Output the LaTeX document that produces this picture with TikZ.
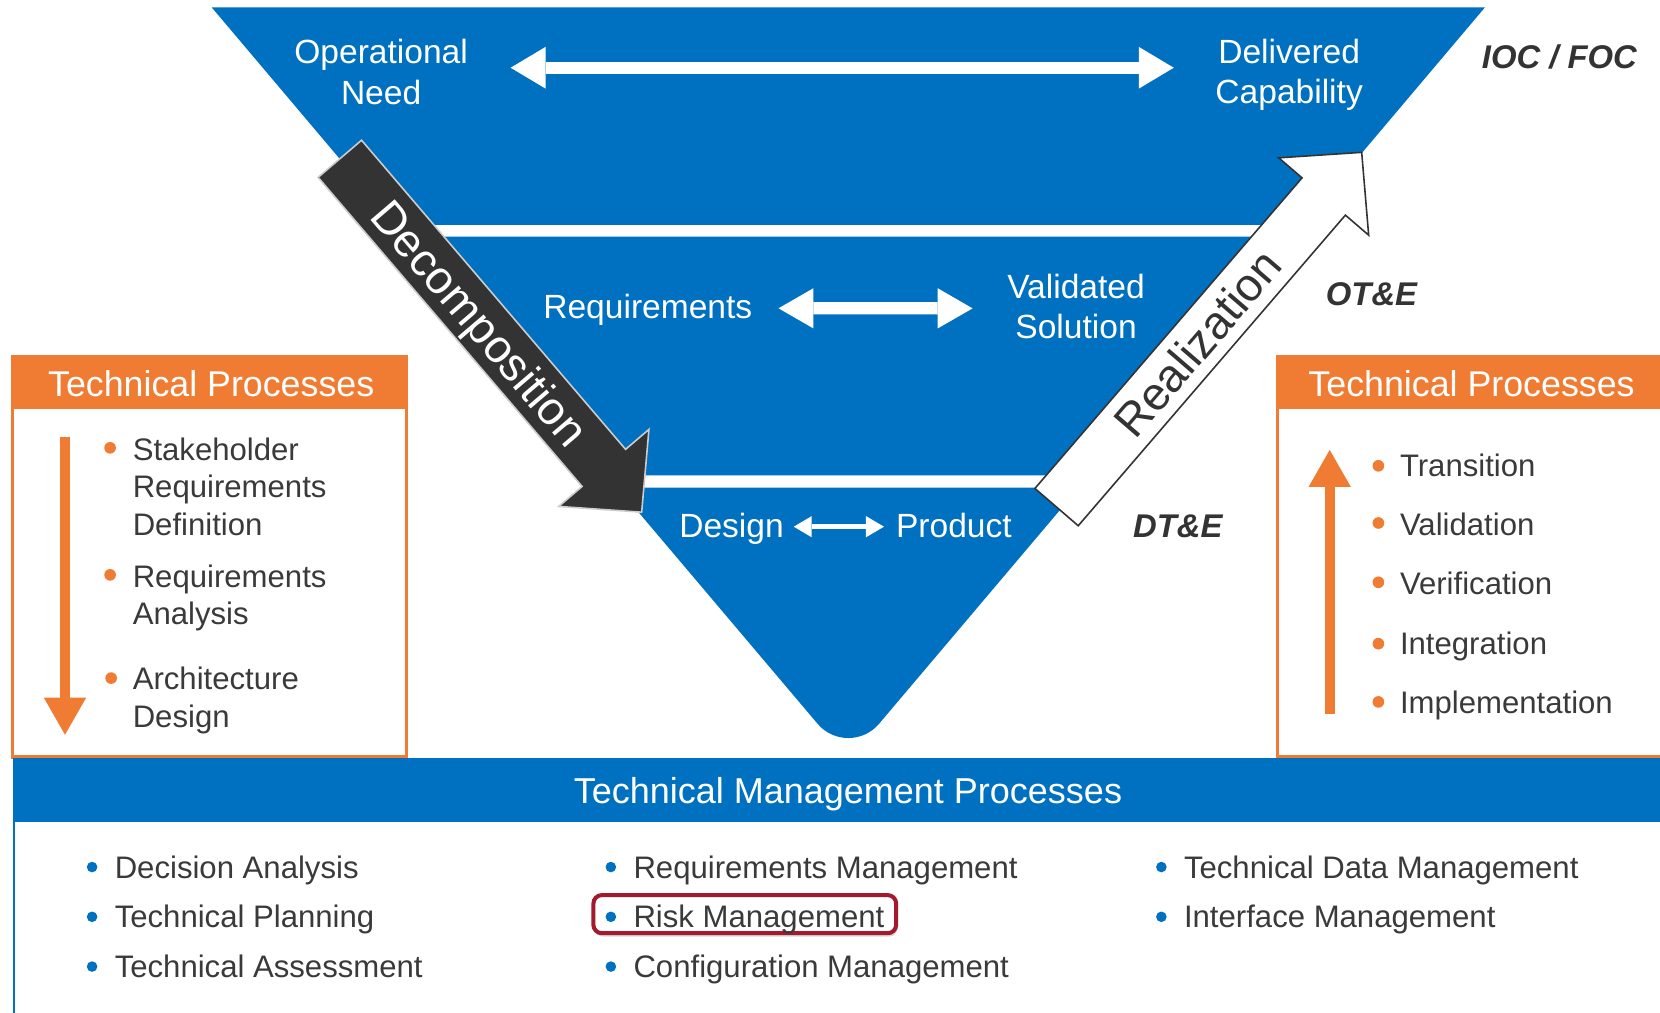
\documentclass[tikz,border=0pt]{standalone}
\usepackage{fontspec}
\setmainfont{Liberation Sans}
\usetikzlibrary{arrows.meta,shadows}

\definecolor{vblue}{RGB}{0,112,192}
\definecolor{vorange}{RGB}{240,124,52}
\definecolor{vdark}{RGB}{51,51,51}
\definecolor{vtext}{RGB}{58,58,58}
\definecolor{vred}{RGB}{163,25,45}

\tikzset{
  capc/.style={inner sep=0pt, text depth=0pt, text height=#1},
  bluetwo/.style={inner sep=0pt, text=white, align=center, font=\fontsize{15.85}{19}\selectfont},
  blueone/.style={capc=11.35pt, text=white, font=\fontsize{15.85}{19}\selectfont},
  phase/.style={capc=11.1pt, text=vdark, font=\fontsize{15.5}{18}\selectfont\bfseries\itshape},
  header/.style={capc=12.1pt, text=white, font=\fontsize{16.9}{20}\selectfont},
  itemtwo/.style={inner sep=0pt, text=vtext, align=left, anchor=north west, font=\fontsize{14.7}{17.75}\selectfont},
  itemone/.style={capc=10.5pt, anchor=west, text=vtext, font=\fontsize{14.7}{17.75}\selectfont},
  flowtext/.style={capc=15.6pt, font=\fontsize{21.85}{26}\selectfont},
  toparrow/.style={draw=white, line width=5.8pt, >={Triangle[length=16.5pt,width=19.7pt,line width=0pt]}, <->},
  midarrow/.style={draw=white, line width=5.8pt, >={Triangle[length=16.5pt,width=19pt,line width=0pt]}, <->},
  botarrow/.style={draw=white, line width=2.5pt, >={Triangle[length=8.5pt,width=10pt,line width=0pt]}, <->},
  orangearrow/.style={draw=vorange, line width=4.75pt, -{Triangle[length=17.5pt,width=20pt,line width=0pt]}},
  obullet/.style={fill=vorange},
  bbullet/.style={fill=vblue},
  procbox/.style={draw=vorange, line width=1.5pt, fill=white},
}

\begin{document}
\begin{tikzpicture}[x=0.5pt,y=-0.5pt]
\useasboundingbox (0,0) rectangle (1568,956);
\clip (0,0) rectangle (1568,956);
\fill[white] (0,0) rectangle (1568,956);

% ---- the inverted V: three blue bands ----
\fill[vblue] (200,7) -- (1402.6,7) -- (1228.9,212.5) -- (373.7,212.5) -- cycle;
\fill[vblue] (383.1,223.5) -- (1219.5,223.5) -- (1028.9,449) -- (573.7,449) -- cycle;
\fill[vblue] (583.4,460.5) -- (1019.2,460.5) -- (830.3,683.7)
   .. controls (815.1,701.6) and (787.5,701.6) .. (772.3,683.7) -- cycle;

% ---- labels inside the bands ----
\node[bluetwo] (opneed) at (360,68) {Operational\\Need};
\node[bluetwo] (delcap) at (1217.7,71) {Delivered\\Capability};
\node[blueone] (req) at (611.9,289.6) {Requirements};
\node[bluetwo] (valsol) at (1016.4,289.7) {Validated\\Solution};
\node[blueone] (design) at (691,496) {Design};
\node[blueone] (product) at (901,496) {Product};

\draw[toparrow, shorten <=20pt, shorten >=19.5pt] ([yshift=2pt]opneed.east) -- ([yshift=3.5pt]delcap.west);
\draw[midarrow, shorten <=12.2pt, shorten >=16.2pt] ([yshift=-0.8pt]req.east) -- ([yshift=-0.8pt]valsol.west);
\draw[botarrow, shorten <=4.5pt, shorten >=5.5pt] ([yshift=-0.75pt]design.east) -- ([yshift=-0.75pt]product.west);

% ---- decomposition arrow ----
\begin{scope}[shift={(321,150)}, rotate=-49.5]
  \filldraw[fill=vdark, draw=white!80!black, line width=0.75pt]
    (0,-27) -- (384,-27) -- (384,-56) -- (439,0) -- (384,56) -- (384,27) -- (0,27) -- cycle;
  \node[flowtext, text=white, rotate=-49.5] (decomp) at (204,0) {Decomposition};
\end{scope}

% ---- realization arrow ----
\begin{scope}[shift={(998,479)}, rotate=49.3]
  \filldraw[fill=white, draw=vdark, line width=0.75pt]
    (0,-27) -- (387,-27) -- (387,-56) -- (442,0) -- (387,56) -- (387,27) -- (0,27) -- cycle;
  \node[flowtext, text=vdark, rotate=49.3] (realiz) at (204,0) {Realization};
\end{scope}

% ---- test phases ----
\node[phase] (ioc) at (1473,54) {IOC / FOC};
\node[phase] (ote) at (1295.5,277.5) {OT\&E};
\node[phase] (dte) at (1112.5,497) {DT\&E};

% ---- left technical processes box ----
\draw[procbox] (12,337) rectangle (384,715);
\fill[vorange] (12,337) rectangle (384,386);
\node[header] (tpleft) at (199.5,362) {Technical Processes};
\coordinate (ldtop) at (61.4,413);
\coordinate (ldbot) at (61.4,694);
\draw[orangearrow] (ldtop) -- (ldbot);
\fill[obullet] (104,423) circle[radius=2.75pt];
\fill[obullet] (104,543) circle[radius=2.75pt];
\fill[obullet] (105,640.5) circle[radius=2.75pt];
\node[itemtwo] (srd) at (125,413) {Stakeholder\\Requirements\\Definition};
\node[itemtwo] (ra) at (125,533) {Requirements\\Analysis};
\node[itemtwo] (ad) at (125,630) {Architecture\\Design};

% ---- right technical processes box ----
\draw[procbox] (1207,337) rectangle (1580,715);
\fill[vorange] (1207,337) rectangle (1580,386);
\node[header] (tpright) at (1390,362) {Technical Processes};
\coordinate (rutail) at (1256,674);
\coordinate (rutip) at (1256,425);
\draw[orangearrow] (rutail) -- (rutip);
\foreach \yy in {440,494,550,608,663}
  \fill[obullet] (1302,\yy) circle[radius=2.75pt];
\node[itemone] (tra) at (1322,439.5) {Transition};
\node[itemone] (val) at (1322,495) {Validation};
\node[itemone] (ver) at (1322,551) {Verification};
\node[itemone] (intg) at (1322,607.5) {Integration};
\node[itemone] (impl) at (1322,663) {Implementation};

% ---- technical management processes ----
\fill[vblue] (12,716) rectangle (1580,776);
\draw[vblue, line width=1pt] (13,776) -- (13,960);
\node[header, capc=12.2pt, font=\fontsize{17}{20}\selectfont] (tmp) at (801,747) {Technical Management Processes};

\node[draw=vred, line width=1.9pt, rounded corners=4pt, fill=white, inner sep=0pt,
      minimum width=143pt, minimum height=18pt,
      drop shadow={opacity=0.3, shadow xshift=0.6pt, shadow yshift=-1.6pt}] (riskbox) at (703.5,863.5) {};

\foreach \xx/\yy in {87/819,87/866,87/913,577/819,577/866,577/913,1097/819,1097/866}
  \fill[bbullet] (\xx,\yy) circle[radius=2.5pt];
\node[itemone] (da) at (108,819) {Decision Analysis};
\node[itemone] (tpl) at (108,866) {Technical Planning};
\node[itemone] (tas) at (108,913) {Technical Assessment};
\node[itemone] (rm) at (598,819) {Requirements Management};
\node[itemone] (risk) at (598,866) {Risk Management};
\node[itemone] (cm) at (598,913) {Configuration Management};
\node[itemone] (tdm) at (1118,819) {Technical Data Management};
\node[itemone] (im) at (1118,866) {Interface Management};
\end{tikzpicture}
\end{document}
